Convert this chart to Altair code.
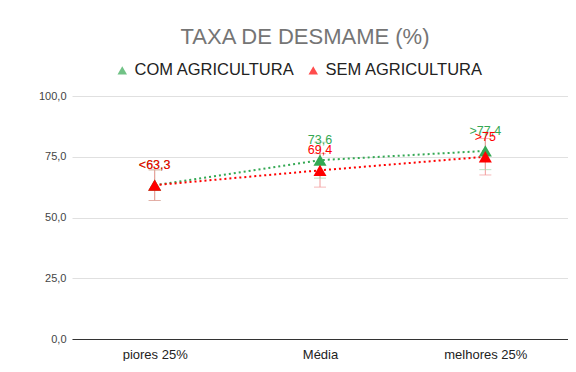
import altair as alt
import pandas as pd

cats = ["piores 25%", "Média", "melhores 25%"]
series = ["COM AGRICULTURA", "SEM AGRICULTURA"]
com = [63.3, 73.6, 77.4]
sem = [63.3, 69.4, 75.0]
com_err = [6.3, 7.4, 7.7]
sem_err = [6.3, 6.9, 7.5]
com_labels = ["<63,3", "73,6", ">77,4"]
sem_labels = ["<63,3", "69,4", ">75"]
colors = ["#34a853", "#ff0000"]
err_colors = ["#a3d6ad", "#f29a9a"]

rows = []
for s, vals, errs, labs, ec in [
    (series[0], com, com_err, com_labels, err_colors[0]),
    (series[1], sem, sem_err, sem_labels, err_colors[1]),
]:
    for c, v, e, l in zip(cats, vals, errs, labs):
        rows.append({"cat": c, "series": s, "value": v, "lo": v - e, "hi": v + e,
                     "label": l, "ecol": ec})
df = pd.DataFrame(rows)

FONT = "Liberation Sans"

x = alt.X("cat:N", sort=cats, title=None,
          scale=alt.Scale(type="point", padding=0.5),
          axis=alt.Axis(labelAngle=0, labelFontSize=13, labelColor="#222222",
                        labelFont=FONT, ticks=False, domainColor="#333333",
                        labelPadding=9, grid=False))
yscale = alt.Scale(domain=[0, 100])
yaxis = alt.Axis(values=[0, 25, 50, 75, 100], title=None, domain=False, ticks=False,
                 labelFontSize=11, labelColor="#444444", labelFont=FONT,
                 labelPadding=6, gridColor="#e0e0e0",
                 labelExpr="replace(format(datum.value, '.1f'), '.', ',')")
color = alt.Color("series:N", scale=alt.Scale(domain=series, range=colors),
                  legend=alt.Legend(title=None, orient="none", direction="horizontal",
                                    legendX=42, legendY=-34, symbolType="triangle-up",
                                    symbolSize=90, labelFontSize=16.5, labelFont=FONT,
                                    labelColor="#222222", columnPadding=10,
                                    symbolStrokeWidth=0, labelLimit=300))

base = alt.Chart(df)

lines = base.mark_line(strokeDash=[2, 3], strokeWidth=2).encode(
    x=x, y=alt.Y("value:Q", scale=yscale, axis=yaxis), color=color,
    detail="series:N")

rules = base.mark_rule(strokeWidth=1).encode(
    x=x, y="lo:Q", y2="hi:Q", color=alt.Color("ecol:N", scale=None))
caps_lo = base.mark_tick(orient="horizontal", size=12, thickness=1).encode(
    x=x, y="lo:Q", color=alt.Color("ecol:N", scale=None))
caps_hi = base.mark_tick(orient="horizontal", size=12, thickness=1).encode(
    x=x, y="hi:Q", color=alt.Color("ecol:N", scale=None))

points = base.mark_point(shape="triangle-up", filled=True, size=170, opacity=1).encode(
    x=x, y="value:Q", color=color)

labels = base.mark_text(fontSize=12.5, font=FONT, dy=-20, baseline="middle").encode(
    x=x, y="value:Q", text="label:N", color=color)

chart = alt.layer(lines, rules, caps_lo, caps_hi, points, labels).properties(
    width=496, height=243,
    autosize=alt.AutoSizeParams(type="none"),
    padding={"left": 64, "top": 88, "right": 0, "bottom": 22},
    title=alt.TitleParams("TAXA DE DESMAME (%)", fontSize=22, color="#757575",
                          font=FONT, fontWeight="normal", anchor="middle",
                          dx=-15, offset=13),
).configure_view(stroke=None)

chart.save("out.html", embed_options={"renderer": "svg", "actions": False})
